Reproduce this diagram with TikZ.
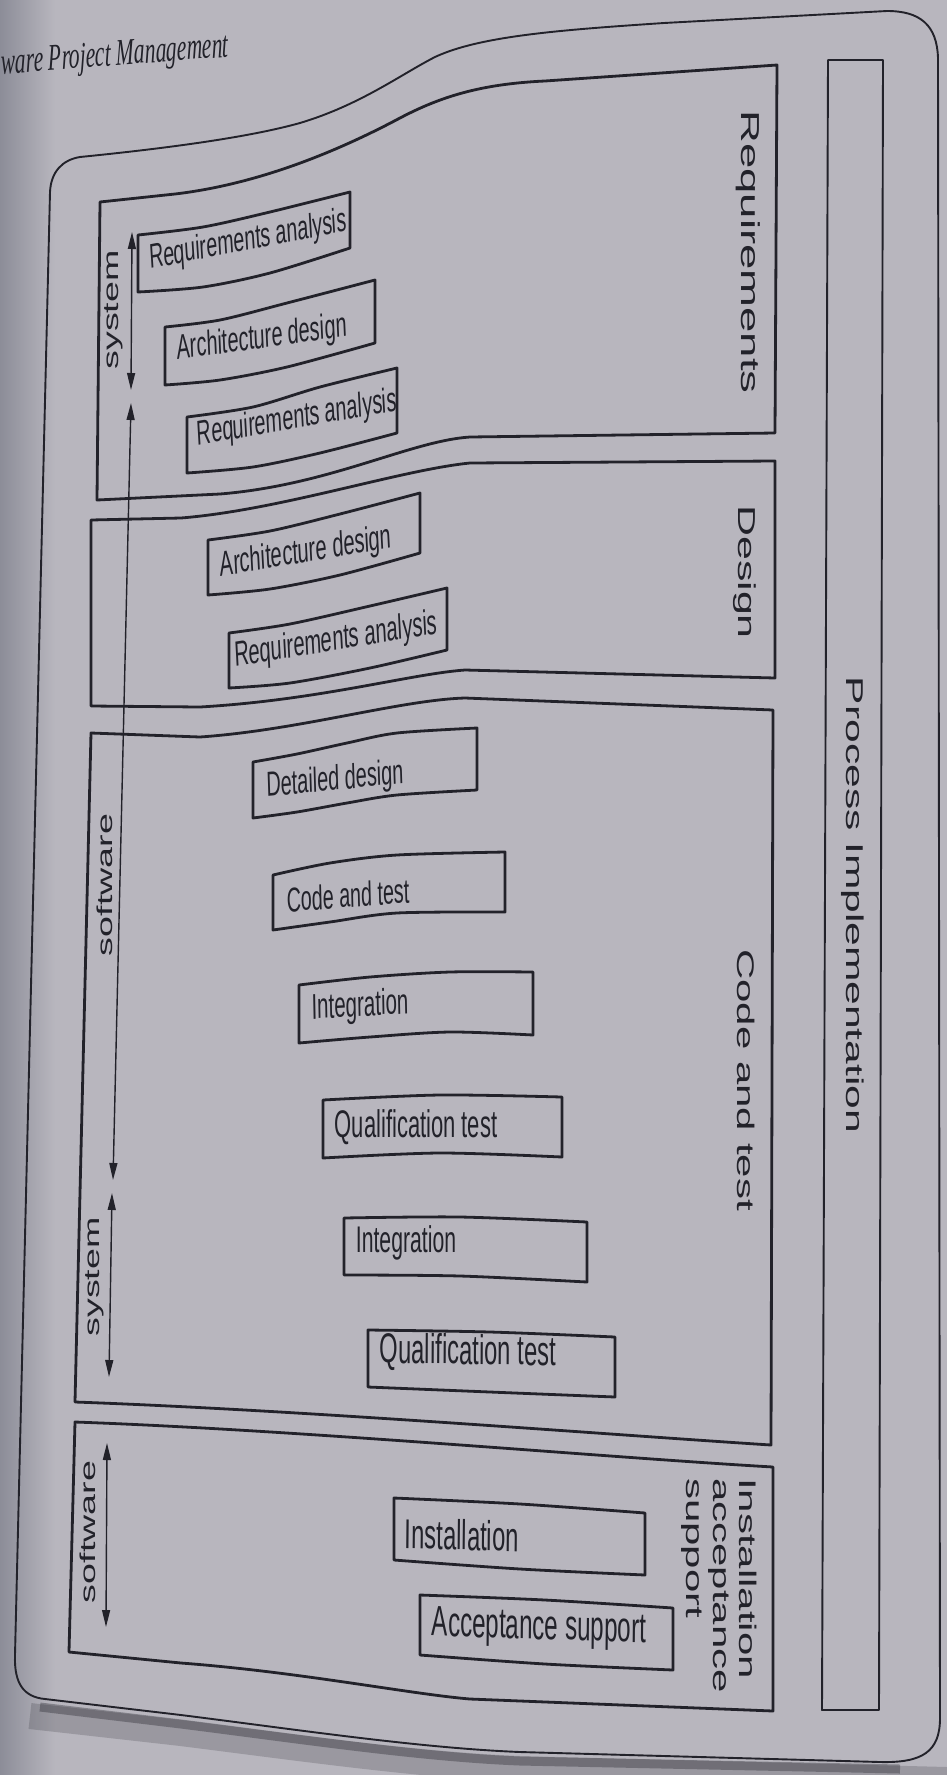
\documentclass[tikz,border=0pt]{standalone}
\usepackage{fontspec}
\setmainfont{Liberation Sans}
\newfontfamily\hdrfont{Liberation Serif}
\usetikzlibrary{arrows.meta}

\definecolor{paper}{RGB}{184,182,190}
\definecolor{paperdark}{RGB}{140,141,152}
\definecolor{ink}{RGB}{34,34,42}

% text set at a given angle and size, then drawn tall (page-vertical stretch)
\newcommand{\tall}[3]{\scalebox{1}[1.75]{\rotatebox{#1}{\fontsize{#2}{#2}\selectfont #3}}}

\begin{document}
\begin{tikzpicture}[x=1pt,y=-1pt,
  inkline/.style={draw=ink, line cap=round, line join=round},
  phase/.style={inkline, line width=2.8pt},
  task/.style={inkline, line width=2.8pt},
  frame/.style={inkline, line width=1.9pt},
  span/.style={draw=ink, line width=1.4pt,
    {Triangle[length=17pt,width=8pt]}-{Triangle[length=17pt,width=8pt]}},
  lbl/.style={inner sep=0pt, outer sep=0pt, text=ink},
]
\useasboundingbox (0,0) rectangle (947,1775);

% paper
\fill[paper] (0,0) rectangle (947,1775);
\shade[left color=paperdark, right color=paper] (0,0) rectangle (55,1775);

% shadow under the page edge
\draw[ink, opacity=.2, line width=26pt] (30,1716) -- (181,1733)
  .. controls (300,1748) and (420,1765) .. (520,1769) -- (947,1780);
\draw[ink, opacity=.35, line width=9pt] (40,1707) -- (181,1724)
  .. controls (300,1739) and (420,1757) .. (520,1761) -- (900,1769);

% outer frame
\draw[frame] (50,192) -- (15,1655)
  .. controls (14,1684) and (24,1697) .. (45,1699)
  -- (181,1715) .. controls (300,1730) and (420,1748) .. (520,1752) -- (880,1762)
  .. controls (922,1763) and (940,1752) .. (940,1718)
  -- (938,58)
  .. controls (937,25) and (920,11) .. (887,11)
  -- (664,23) .. controls (560,30) and (480,36) .. (435,57)
  .. controls (400,75) and (360,105) .. (300,123)
  .. controls (250,137) and (170,148) .. (80,157)
  .. controls (62,160) and (51,172) .. (50,192) -- cycle;

% phase boxes
\draw[phase] (100,202) -- (175,194) .. controls (260,184) and (340,150) .. (400,118)
  .. controls (440,97) and (480,84) .. (545,81) -- (777,65)
  -- (775,433) -- (470,437) .. controls (410,441) and (330,485) .. (220,494)
  -- (97,500) -- cycle;
\draw[phase] (91,520) -- (181,518) .. controls (280,510) and (400,470) .. (470,463)
  -- (775,461) -- (775,678)
  -- (465,670) .. controls (410,674) and (320,700) .. (200,707) -- (91,706) -- cycle;
\draw[phase] (91,733) -- (200,737) .. controls (300,730) and (400,700) .. (465,698)
  -- (773,710) -- (771,1445)
  .. controls (600,1434) and (300,1410) .. (75,1402) -- cycle;
\draw[phase] (75,1422) .. controls (300,1430) and (600,1457) .. (773,1467)
  -- (773,1711) -- (470,1699) .. controls (410,1694) and (300,1672) .. (181,1663)
  -- (69,1652) -- cycle;

% process implementation strip
\draw[frame] (828,60) -- (883,60) -- (879,1710) -- (822,1710) -- cycle;

% activity boxes
\draw[task] plot[smooth] coordinates {(138,235) (203,227) (270,212) (350,192)}
  -- plot[smooth] coordinates {(350,248) (270,273) (203,287) (138,292)} -- cycle;
\draw[task] plot[smooth] coordinates {(165,327) (220,320) (287,303) (375,280)}
  -- plot[smooth] coordinates {(375,343) (287,367) (220,380) (165,385)} -- cycle;
\draw[task] plot[smooth] coordinates {(187,417) (253,407) (320,387) (397,368)}
  -- plot[smooth] coordinates {(397,433) (320,453) (253,467) (187,473)} -- cycle;
\draw[task] plot[smooth] coordinates {(208,540) (270,531) (340,514) (420,493)}
  -- plot[smooth] coordinates {(420,553) (340,575) (270,589) (208,595)} -- cycle;
\draw[task] plot[smooth] coordinates {(229,633) (290,624) (370,606) (447,588)}
  -- plot[smooth] coordinates {(447,650) (370,668) (290,683) (229,688)} -- cycle;
\draw[task] plot[smooth] coordinates {(253,762) (297,754) (347,743) (397,733) (477,728)}
  -- plot[smooth] coordinates {(477,790) (397,795) (347,803) (297,812) (253,818)} -- cycle;
\draw[task] plot[smooth] coordinates {(273,875) (330,863) (397,855) (505,852)}
  -- plot[smooth] coordinates {(505,912) (397,913) (330,922) (273,930)} -- cycle;
\draw[task] plot[smooth] coordinates {(299,985) (370,977) (450,972) (533,972)}
  -- plot[smooth] coordinates {(533,1035) (450,1032) (370,1037) (299,1043)} -- cycle;
\draw[task] plot[smooth] coordinates {(323,1100) (440,1095) (562,1097)}
  -- plot[smooth] coordinates {(562,1157) (440,1153) (323,1158)} -- cycle;
\draw[task] plot[smooth] coordinates {(344,1218) (460,1217) (587,1222)}
  -- plot[smooth] coordinates {(587,1282) (460,1276) (344,1275)} -- cycle;
\draw[task] plot[smooth] coordinates {(368,1330) (490,1332) (615,1337)}
  -- plot[smooth] coordinates {(615,1397) (490,1392) (368,1387)} -- cycle;
\draw[task] plot[smooth] coordinates {(394,1498) (520,1504) (645,1513)}
  -- plot[smooth] coordinates {(645,1575) (520,1569) (394,1560)} -- cycle;
\draw[task] plot[smooth] coordinates {(420,1595) (545,1600) (673,1608)}
  -- plot[smooth] coordinates {(673,1670) (545,1664) (420,1655)} -- cycle;

% span arrows
\coordinate (s1a) at (132,232);  \coordinate (s1b) at (131,390);
\coordinate (s2a) at (131,403);  \coordinate (s2b) at (113,1180);
\coordinate (s3a) at (112,1193); \coordinate (s3b) at (109,1377);
\coordinate (s4a) at (107,1443); \coordinate (s4b) at (106,1627);
\draw[span] (s1a) -- (s1b);
\draw[span] (s2a) -- (s2b);
\draw[span] (s3a) -- (s3b);
\draw[span] (s4a) -- (s4b);

% running head
\node[lbl] (hdr) at (115,57) {\tall{2.5}{21.5}{\hdrfont\itshape ware Project Management}};

% phase labels
\node[lbl] (lreq) at (748,252) {\tall{-90}{26}{Requirements}};
\node[lbl] (ldes) at (745,572) {\tall{-90}{24.5}{Design}};
\node[lbl] (lcod) at (746,1080) {\tall{-90}{24}{Code and test}};
\node[lbl] (lproc) at (853,905) {\tall{-90}{24.3}{Process Implementation}};
\node[lbl, anchor=north east] (linst) at (758,1478)
  {\tall{-90}{24}{\renewcommand\arraystretch{1.1}\begin{tabular}{@{}l@{}}Installation\\acceptance\\support\end{tabular}}};

% span labels
\node[lbl] (ls1) at (114,310) {\tall{90}{21.5}{system}};
\node[lbl] (ls2) at (105,885) {\tall{90}{21.5}{software}};
\node[lbl] (ls3) at (95,1277) {\tall{90}{21.5}{system}};
\node[lbl] (ls4) at (88,1532) {\tall{90}{21.5}{software}};

% activity labels
\node[lbl] (t1) at (248,241) {\tall{6.3}{19.6}{Requirements analysis}};
\node[lbl] (t2) at (262,339) {\tall{4.5}{19.9}{Architecture design}};
\node[lbl] (t3) at (297,419) {\tall{5.7}{19.8}{Requirements analysis}};
\node[lbl] (t4) at (306,553) {\tall{5.4}{20.1}{Architecture design}};
\node[lbl] (t5) at (336,641) {\tall{5.3}{20.1}{Requirements analysis}};
\node[lbl] (t6) at (335,781) {\tall{3.2}{19.9}{Detailed design}};
\node[lbl] (t7) at (348,895) {\tall{2.5}{19.7}{Code and test}};
\node[lbl] (t8) at (360,1007) {\tall{2}{20.5}{Integration}};
\node[lbl] (t9) at (416,1127) {\tall{0}{22}{Qualification test}};
\node[lbl] (t10) at (406,1243) {\tall{0}{21.2}{Integration}};
\node[lbl] (t11) at (468,1353) {\tall{-0.5}{23.8}{Qualification test}};
\node[lbl] (t12) at (462,1535) {\tall{-1}{23.8}{Installation}};
\node[lbl] (t13) at (539,1629) {\tall{-1}{24.2}{Acceptance support}};
\end{tikzpicture}
\end{document}
